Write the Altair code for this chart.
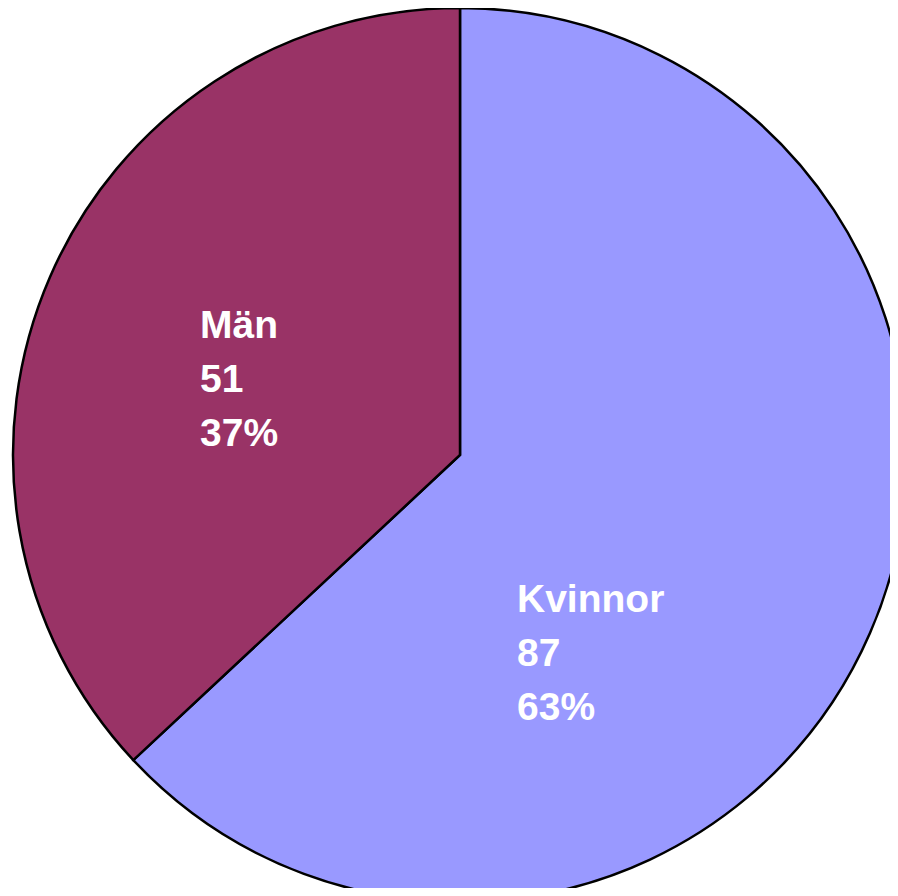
import altair as alt
import pandas as pd

categories = ["Kvinnor", "Män"]
values = [87, 51]
colors = ["#9999FF", "#993366"]
order_idx = [0, 1]

df = pd.DataFrame({"cat": categories, "value": values, "idx": order_idx})

base = alt.Chart(df).transform_joinaggregate(
    total="sum(value)"
).transform_calculate(
    label="datum.cat + '|' + datum.value + '|' + round(datum.value / datum.total * 100) + '%'"
)

arc = base.mark_arc(outerRadius=447, stroke="black", strokeWidth=2.5).encode(
    theta=alt.Theta("value:Q", stack=True),
    color=alt.Color("cat:N", scale=alt.Scale(domain=categories, range=colors), legend=None),
    order=alt.Order("idx:Q"),
    x=alt.value(452),
    y=alt.value(447),
)

text_style = dict(
    lineBreak="|", align="left", baseline="alphabetic",
    font="Liberation Sans", fontSize=39, fontWeight="bold",
    lineHeight=54, color="white",
)

label_k = base.transform_filter(alt.datum.cat == "Kvinnor").mark_text(**text_style).encode(
    text="label:N", x=alt.value(509), y=alt.value(604)
)
label_m = base.transform_filter(alt.datum.cat == "Män").mark_text(**text_style).encode(
    text="label:N", x=alt.value(192), y=alt.value(330)
)

chart = alt.layer(arc, label_k, label_m).properties(
    width=882, height=880, padding=0, background="white",
    autosize=alt.AutoSizeParams(type="none")
).configure_view(stroke=None)

chart.save("out.html", embed_options={"renderer": "svg", "actions": False})
